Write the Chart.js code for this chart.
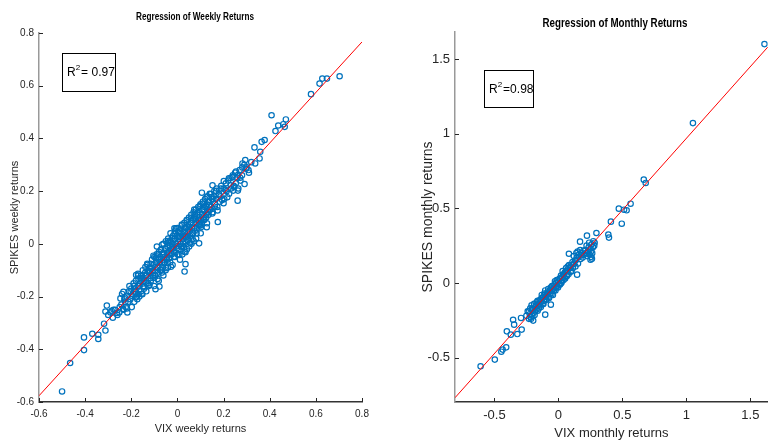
<!DOCTYPE html>
<html>
<head>
<meta charset="utf-8">
<title>Regression of Returns</title>
<script src="https://cdn.jsdelivr.net/npm/chart.js@4.4.1/dist/chart.umd.min.js"></script>
<style>
  html, body { margin: 0; padding: 0; background: #fff; }
  #wrap { position: relative; width: 773px; height: 445px; overflow: hidden; }
  #weekly-box { position: absolute; left: 0; top: 0; width: 390px; height: 445px; }
  #monthly-box { position: absolute; left: 390px; top: 0; width: 383px; height: 445px; }
</style>
</head>
<body>
<div id="wrap">
  <div id="weekly-box"><canvas id="weekly-chart" width="390" height="445"></canvas></div>
  <div id="monthly-box"><canvas id="monthly-chart" width="383" height="445"></canvas></div>
</div>
<script>
// weekly returns: VIX (x) vs SPIKES (y)
const weeklyX = [
  0.703, 0.648, 0.628, 0.616, 0.579, 0.408, 0.470, 0.459, 0.465, 0.437,
  0.425, 0.378, 0.365, 0.334, 0.359, 0.356, 0.337, 0.294, 0.282, 0.308,
  0.291, 0.261, 0.262, 0.242, 0.200, 0.175, 0.152, 0.106, 0.127, 0.094,
  0.035, 0.035, 0.031, -0.013, -0.089, -0.078, -0.095, -0.179, -0.183, -0.217,
  -0.234, -0.306, -0.312, -0.277, -0.318, -0.312, -0.343, -0.343, -0.369, -0.405,
  -0.405, -0.465, -0.500,
  -0.30, -0.29, -0.28, -0.27, -0.26, -0.25, -0.252, -0.24, -0.243,
  -0.23, -0.234, -0.22, -0.224, -0.21, -0.213, -0.20, -0.204, -0.198,
  -0.19, -0.193, -0.187, -0.18, -0.184, -0.177, -0.17, -0.172, -0.168, -0.174,
  -0.16, -0.163, -0.158, -0.165, -0.15, -0.153, -0.147, -0.155,
  -0.14, -0.143, -0.137, -0.145, -0.13, -0.133, -0.127, -0.135,
  -0.12, -0.123, -0.117, -0.125, -0.11, -0.113, -0.107, -0.115,
  -0.10, -0.103, -0.097, -0.105, -0.101, -0.09, -0.093, -0.087, -0.095,
  -0.08, -0.083, -0.077, -0.085, -0.081, -0.07, -0.073, -0.067, -0.075,
  -0.06, -0.063, -0.057, -0.065, -0.061, -0.05, -0.053, -0.047, -0.055, -0.051,
  -0.04, -0.043, -0.037, -0.045, -0.041, -0.03, -0.033, -0.027, -0.035, -0.031,
  -0.02, -0.023, -0.017, -0.025, -0.021, -0.01, -0.013, -0.007, -0.015, -0.011,
  0.00, -0.003, 0.003, -0.005, 0.001, 0.01, 0.007, 0.013, 0.005, 0.011,
  0.02, 0.017, 0.023, 0.015, 0.021, 0.03, 0.027, 0.033, 0.025, 0.031,
  0.04, 0.037, 0.043, 0.035, 0.041, 0.05, 0.047, 0.053, 0.045, 0.051,
  0.06, 0.057, 0.063, 0.055, 0.061, 0.07, 0.067, 0.073, 0.065, 0.071,
  0.08, 0.077, 0.083, 0.075, 0.081, 0.09, 0.087, 0.093, 0.085,
  0.10, 0.097, 0.103, 0.095, 0.101, 0.11, 0.107, 0.113, 0.105,
  0.12, 0.117, 0.123, 0.115, 0.13, 0.127, 0.133, 0.125,
  0.14, 0.137, 0.143, 0.135, 0.15, 0.147, 0.153,
  0.16, 0.157, 0.163, 0.17, 0.167, 0.173,
  0.18, 0.183, 0.19, 0.187, 0.20, 0.203, 0.21, 0.213,
  0.22, 0.224, 0.23, 0.233, 0.24, 0.244, 0.25, 0.253,
  0.26, 0.264, 0.27, 0.273, 0.28, 0.29, 0.30, 0.31, 0.32,
  -0.285, -0.262, -0.247, -0.236, -0.228, -0.219, -0.208, -0.196, -0.188, -0.179,
  -0.171, -0.166, -0.158, -0.152, -0.146, -0.139, -0.134, -0.128, -0.121, -0.116,
  -0.109, -0.104, -0.098, -0.092, -0.086, -0.082, -0.076, -0.071, -0.066, -0.062,
  -0.058, -0.054, -0.049, -0.045, -0.041, -0.036, -0.032, -0.028, -0.024, -0.019,
  -0.015, -0.011, -0.006, -0.002, 0.004, 0.008, 0.012, 0.016, 0.019, 0.024,
  0.028, 0.033, 0.037, 0.042, 0.046, 0.051, 0.055, 0.059, 0.064, 0.068,
  0.073, 0.078, 0.083, 0.087, 0.092, 0.097, 0.102, 0.106, 0.112, 0.117,
  0.123, 0.128, 0.134, 0.139, 0.145, 0.151, 0.156, 0.162, 0.168, 0.174,
  0.181, 0.188, 0.194, 0.201, 0.208, 0.216, 0.223, 0.231, 0.238, 0.246,
  0.254, 0.263, 0.272, 0.281, 0.297,
  -0.093, -0.087, -0.072, -0.067, -0.056, -0.043, -0.038, -0.026, -0.013, -0.008,
  0.006, 0.014, 0.022, 0.031, 0.044, 0.057, 0.066, 0.076, 0.089, 0.099,
  0.114, 0.126, 0.137, 0.149, -0.118, -0.131, -0.144, -0.157, -0.169, -0.182,
  -0.203, -0.226
];
const weeklyY = [
  0.636, 0.627, 0.627, 0.608, 0.568, 0.488, 0.472, 0.454, 0.444, 0.449,
  0.428, 0.394, 0.387, 0.366, 0.349, 0.324, 0.305, 0.318, 0.305, 0.280,
  0.227, 0.164, 0.202, 0.202, 0.154, 0.083, 0.222, 0.194, 0.063, 0.002,
  -0.032, -0.077, -0.105, 0.059, -0.010, -0.162, -0.172, -0.118, -0.182, -0.260,
  -0.182, -0.234, -0.257, -0.250, -0.303, -0.329, -0.345, -0.361, -0.341, -0.355,
  -0.403, -0.452, -0.560,
  -0.27, -0.26, -0.28, -0.25, -0.27, -0.24, -0.26, -0.19, -0.23,
  -0.21, -0.25, -0.20, -0.24, -0.18, -0.22, -0.17, -0.21, -0.24,
  -0.15, -0.19, -0.22, -0.14, -0.17, -0.20, -0.12, -0.16, -0.19, -0.21,
  -0.13, -0.15, -0.18, -0.20, -0.10, -0.13, -0.16, -0.19,
  -0.11, -0.14, -0.12, -0.17, -0.08, -0.12, -0.15, -0.18,
  -0.09, -0.11, -0.13, -0.16, -0.06, -0.09, -0.12, -0.14,
  -0.05, -0.08, -0.10, -0.13, -0.16, -0.04, -0.07, -0.09, -0.12,
  -0.03, -0.06, -0.08, -0.11, -0.14, -0.02, -0.05, -0.07, -0.10,
  0.00, -0.04, -0.06, -0.09, -0.12, 0.01, -0.02, -0.05, -0.07, -0.10,
  0.02, -0.01, -0.03, -0.06, -0.09, 0.04, 0.01, -0.02, -0.04, -0.07,
  0.03, 0.00, -0.01, -0.04, -0.08, 0.05, 0.02, 0.00, -0.03, -0.05,
  0.06, 0.03, 0.01, -0.01, -0.04, 0.05, 0.02, 0.00, -0.02, -0.06,
  0.07, 0.04, 0.02, -0.01, -0.04, 0.08, 0.05, 0.03, 0.00, -0.03,
  0.09, 0.06, 0.04, 0.01, -0.02, 0.10, 0.07, 0.05, 0.02, -0.01,
  0.11, 0.08, 0.06, 0.03, 0.00, 0.12, 0.09, 0.06, 0.04, 0.01,
  0.13, 0.10, 0.08, 0.05, 0.02, 0.14, 0.11, 0.09, 0.06,
  0.15, 0.12, 0.09, 0.07, 0.04, 0.16, 0.13, 0.10, 0.08,
  0.17, 0.14, 0.11, 0.09, 0.18, 0.15, 0.12, 0.10,
  0.19, 0.16, 0.13, 0.11, 0.17, 0.14, 0.12,
  0.20, 0.18, 0.15, 0.21, 0.17, 0.14,
  0.19, 0.16, 0.22, 0.18, 0.21, 0.17, 0.23, 0.20,
  0.24, 0.19, 0.25, 0.21, 0.26, 0.22, 0.27, 0.23,
  0.25, 0.21, 0.28, 0.24, 0.26, 0.30, 0.29, 0.27, 0.31,
  -0.254, -0.262, -0.207, -0.247, -0.204, -0.245, -0.160, -0.198, -0.160, -0.202,
  -0.114, -0.159, -0.122, -0.191, -0.130, -0.088, -0.149, -0.103, -0.156, -0.076,
  -0.105, -0.045, -0.119, -0.068, -0.133, -0.039, -0.068, -0.098, -0.003, -0.040,
  -0.071, -0.017, -0.092, -0.033, 0.011, -0.055, -0.006, -0.087, 0.022, -0.018,
  -0.049, 0.019, 0.059, -0.017, 0.044, -0.042, 0.027, -0.010, 0.073, 0.028,
  -0.013, 0.062, 0.026, 0.090, 0.014, 0.064, 0.003, 0.097, 0.061, 0.040,
  0.130, 0.095, 0.040, 0.119, 0.073, 0.143, 0.063, 0.112, 0.153, 0.092,
  0.143, 0.078, 0.159, 0.128, 0.189, 0.115, 0.170, 0.141, 0.201, 0.127,
  0.184, 0.210, 0.166, 0.238, 0.205, 0.177, 0.249, 0.222, 0.253, 0.216,
  0.274, 0.262, 0.251, 0.290, 0.285,
  -0.054, -0.089, -0.024, -0.109, -0.049, -0.071, 0.004, -0.035, 0.038, -0.033,
  0.026, 0.058, -0.009, 0.045, 0.027, 0.080, 0.018, 0.108, 0.090, 0.070,
  0.129, 0.176, 0.147, 0.178, -0.103, -0.076, -0.163, -0.136, -0.132, -0.190,
  -0.180, -0.222
];
const weeklyFit = [0.959, -0.001]; // slope, intercept
const weeklyXRange = [-0.6, 0.8];
const weeklyYRange = [-0.6, 0.8];
const weeklyXTicks = [-0.6, -0.4, -0.2, 0, 0.2, 0.4, 0.6, 0.8];
const weeklyYTicks = [-0.6, -0.4, -0.2, 0, 0.2, 0.4, 0.6, 0.8];

// monthly returns: VIX (x) vs SPIKES (y)
const monthlyX = [
  1.610, 1.051, 0.667, 0.682, 0.564, 0.533, 0.513, 0.472, 0.495, 0.410,
  0.390, 0.395, 0.297, 0.223, 0.169, 0.251, 0.146, 0.082, -0.103, -0.059,
  -0.197, -0.231, -0.354, -0.346, -0.403, -0.372, -0.321, -0.287, -0.292, -0.408,
  -0.436, -0.446, -0.497, -0.608,
  -0.25, -0.24, -0.23, -0.22, -0.224, -0.21, -0.213, -0.20, -0.204, -0.19,
  -0.193, -0.18, -0.184, -0.17, -0.173, -0.16, -0.163, -0.15, -0.153, -0.14,
  -0.143, -0.13, -0.133, -0.12, -0.123, -0.11, -0.113, -0.10, -0.103, -0.09,
  -0.093, -0.08, -0.083, -0.07, -0.073, -0.06, -0.063, -0.05, -0.053, -0.04,
  -0.043, -0.03, -0.033, -0.02, -0.023, -0.01, -0.013, 0.00, -0.003, 0.01,
  0.013, 0.02, 0.023, 0.03, 0.033, 0.04, 0.043, 0.05, 0.053, 0.06,
  0.063, 0.07, 0.073, 0.08, 0.083, 0.09, 0.10, 0.103, 0.11, 0.113,
  0.12, 0.123, 0.13, 0.133, 0.14, 0.143, 0.15, 0.153, 0.16, 0.17,
  0.173, 0.18, 0.19, 0.20, 0.21, 0.22, 0.224, 0.23, 0.24, 0.244,
  0.25, 0.26, 0.264, 0.27, 0.273, 0.28,
  -0.215, -0.207, -0.186, -0.176, -0.162, -0.148, -0.137, -0.126, -0.117, -0.106,
  -0.096, -0.085, -0.076, -0.064, -0.054, -0.046, -0.036, -0.027, -0.016, -0.006,
  0.006, 0.016, 0.027, 0.036, 0.046, 0.057, 0.067, 0.086, 0.096, 0.118,
  0.136, 0.158, 0.178, 0.196, 0.216, 0.236, 0.256, 0.283, 0.255, 0.262
];
const monthlyY = [
  1.600, 1.071, 0.692, 0.670, 0.531, 0.487, 0.491, 0.498, 0.397, 0.411,
  0.324, 0.304, 0.335, 0.317, 0.277, 0.156, 0.056, 0.196, -0.212, -0.145,
  -0.252, -0.190, -0.246, -0.279, -0.324, -0.346, -0.342, -0.312, -0.234, -0.431,
  -0.446, -0.460, -0.513, -0.558,
  -0.22, -0.19, -0.24, -0.17, -0.21, -0.15, -0.24, -0.18, -0.22, -0.14,
  -0.20, -0.16, -0.19, -0.13, -0.18, -0.15, -0.12, -0.14, -0.17, -0.11,
  -0.15, -0.08, -0.12, -0.10, -0.14, -0.07, -0.12, -0.09, -0.05, -0.08,
  -0.11, -0.04, -0.07, -0.06, -0.10, -0.03, -0.07, -0.02, -0.05, -0.04,
  -0.08, -0.01, -0.03, 0.00, -0.05, -0.02, 0.02, 0.01, -0.03, 0.03,
  -0.01, 0.05, 0.00, 0.04, 0.08, 0.02, 0.06, 0.07, 0.03, 0.10,
  0.05, 0.08, 0.11, 0.06, 0.12, 0.10, 0.12, 0.08, 0.14, 0.10,
  0.18, 0.13, 0.15, 0.11, 0.20, 0.17, 0.21, 0.13, 0.19, 0.22,
  0.16, 0.20, 0.17, 0.19, 0.22, 0.25, 0.18, 0.21, 0.27, 0.19,
  0.23, 0.26, 0.20, 0.24, 0.28, 0.25,
  -0.228, -0.175, -0.214, -0.150, -0.186, -0.122, -0.160, -0.098, -0.140, -0.078,
  -0.112, -0.062, -0.094, -0.046, -0.077, -0.022, -0.052, 0.012, -0.030, 0.020,
  -0.012, 0.030, 0.011, 0.055, 0.038, 0.078, 0.047, 0.101, 0.075, 0.126,
  0.152, 0.175, 0.185, 0.215, 0.201, 0.238, 0.212, 0.270, 0.175, 0.163
];
const monthlyFit = [0.961, 0.008];
const monthlyXRange = [-0.808, 1.636];
const monthlyYRange = [-0.797, 1.681];
const monthlyXTicks = [-0.5, 0, 0.5, 1, 1.5];
const monthlyYTicks = [-0.5, 0, 0.5, 1, 1.5];

const NARROW = "'Liberation Sans Narrow', 'Arial Narrow', 'Liberation Sans', Arial, sans-serif";
const REGULAR = "'Liberation Sans', Arial, sans-serif";

// title, R^2 box and inward tick marks, drawn on top of the chart
const overlayPlugin = {
    id: "overlay",
    afterDraw: function(chart, args, opts) {
        const ctx = chart.ctx;
        const area = chart.chartArea;
        ctx.save();

        // tick marks point into the plot, like MATLAB
        ctx.strokeStyle = "#262626";
        ctx.lineWidth = 1;
        ctx.beginPath();
        chart.scales.x.ticks.forEach(function(t) {
            const px = Math.round(chart.scales.x.getPixelForValue(t.value)) + 0.5;
            ctx.moveTo(px, area.bottom);
            ctx.lineTo(px, area.bottom - 4);
        });
        chart.scales.y.ticks.forEach(function(t) {
            const py = Math.round(chart.scales.y.getPixelForValue(t.value)) + 0.5;
            ctx.moveTo(area.left, py);
            ctx.lineTo(area.left + 4, py);
        });
        ctx.stroke();

        ctx.fillStyle = "#000";
        ctx.textBaseline = "middle";
        ctx.textAlign = "center";
        ctx.font = "bold " + opts.titleSize + "px " + NARROW;
        ctx.fillText(opts.title, opts.titleX, opts.titleY, opts.titleWidth);

        const b = opts.box;
        ctx.strokeStyle = "#000";
        ctx.lineWidth = 1;
        ctx.strokeRect(b.x + 0.5, b.y + 0.5, b.w, b.h);

        ctx.textAlign = "left";
        let x = b.x + opts.boxPad;
        const y = b.y + b.h / 2 + 1;
        ctx.font = opts.boxSize + "px " + NARROW;
        ctx.fillText("R", x, y);
        x += ctx.measureText("R").width;
        ctx.font = Math.round(opts.boxSize * 0.7) + "px " + NARROW;
        ctx.fillText("2", x, y - opts.boxSize * 0.4);
        x += ctx.measureText("2").width + 1;
        ctx.font = opts.boxSize + "px " + NARROW;
        ctx.fillText(opts.r2, x, y);
        ctx.restore();
    }
};

function makeChart(canvasId, xs, ys, fit, xRange, yRange, xTickVals, yTickVals, look) {
    const points = xs.map(function(x, i) { return { x: x, y: ys[i] }; });
    const fitLine = xRange.map(function(x) { return { x: x, y: fit[0] * x + fit[1] }; });

    const gridOpts = { drawOnChartArea: false, drawTicks: false };

    return new Chart(document.getElementById(canvasId), {
        type: "scatter",
        data: {
            datasets: [
                {
                    data: fitLine,
                    showLine: true,
                    borderColor: "#ff0000",
                    borderWidth: 1,
                    pointRadius: 0,
                    order: 0
                },
                {
                    data: points,
                    pointRadius: look.marker,
                    pointBorderWidth: 1.2,
                    pointBorderColor: "#0072BD",
                    pointBackgroundColor: "rgba(0,0,0,0)",
                    order: 1
                }
            ]
        },
        options: {
            responsive: false,
            animation: false,
            events: [],
            layout: { padding: look.padding },
            plugins: {
                legend: { display: false },
                tooltip: { enabled: false },
                overlay: look.overlay
            },
            scales: {
                x: {
                    type: "linear",
                    min: xRange[0],
                    max: xRange[1],
                    grid: gridOpts,
                    border: { color: "#333", width: 1.5 },
                    afterBuildTicks: function(s) { s.ticks = xTickVals.map(function(v) { return { value: v }; }); },
                    afterFit: function(s) { s.height = look.xAxisH; },
                    ticks: {
                        font: { family: NARROW, size: look.tickSize },
                        color: "#262626",
                        padding: 6,
                        maxRotation: 0,
                        autoSkip: false,
                        callback: function(v) { return String(v); }
                    },
                    title: {
                        display: true,
                        text: look.xTitle,
                        color: "#262626",
                        font: { family: NARROW, size: look.xTitleSize },
                        padding: { top: 0, bottom: look.xTitlePad }
                    }
                },
                y: {
                    type: "linear",
                    min: yRange[0],
                    max: yRange[1],
                    grid: gridOpts,
                    border: { color: "#999", width: 1.5 },
                    afterBuildTicks: function(s) { s.ticks = yTickVals.map(function(v) { return { value: v }; }); },
                    afterFit: function(s) { s.width = look.yAxisW; },
                    ticks: {
                        font: { family: NARROW, size: look.tickSize },
                        color: "#262626",
                        padding: 5,
                        autoSkip: false,
                        callback: function(v) { return String(v); }
                    },
                    title: {
                        display: true,
                        text: look.yTitle,
                        color: "#262626",
                        font: { family: REGULAR, size: look.yTitleSize },
                        padding: { top: look.yTitlePad, bottom: 0 }
                    }
                }
            }
        },
        plugins: [overlayPlugin]
    });
}

makeChart("weekly-chart", weeklyX, weeklyY, weeklyFit, weeklyXRange, weeklyYRange, weeklyXTicks, weeklyYTicks, {
    marker: 2.7,
    padding: { top: 33, right: 28, left: 0, bottom: 0 },
    xAxisH: 43,
    yAxisW: 39,
    tickSize: 10,
    xTitle: "VIX weekly returns",
    xTitleSize: 11,
    xTitlePad: 9,
    yTitle: "SPIKES weekly returns",
    yTitleSize: 11,
    yTitlePad: 8,
    overlay: {
        title: "Regression of Weekly Returns",
        titleX: 195, titleY: 17, titleSize: 11, titleWidth: 118,
        box: { x: 62, y: 53, w: 53, h: 38 },
        boxPad: 5, boxSize: 12, r2: "= 0.97"
    }
});

makeChart("monthly-chart", monthlyX, monthlyY, monthlyFit, monthlyXRange, monthlyYRange, monthlyXTicks, monthlyYTicks, {
    marker: 2.7,
    padding: { top: 32, right: 0, left: 0, bottom: 0 },
    xAxisH: 43,
    yAxisW: 65,
    tickSize: 13,
    xTitle: "VIX monthly returns",
    xTitleSize: 13,
    xTitlePad: 4,
    yTitle: "SPIKES monthly returns",
    yTitleSize: 14,
    yTitlePad: 30,
    overlay: {
        title: "Regression of Monthly Returns",
        titleX: 225, titleY: 23, titleSize: 13, titleWidth: 145,
        box: { x: 94, y: 70, w: 49, h: 37 },
        boxPad: 5, boxSize: 12, r2: "=0.98"
    }
});
</script>
</body>
</html>
